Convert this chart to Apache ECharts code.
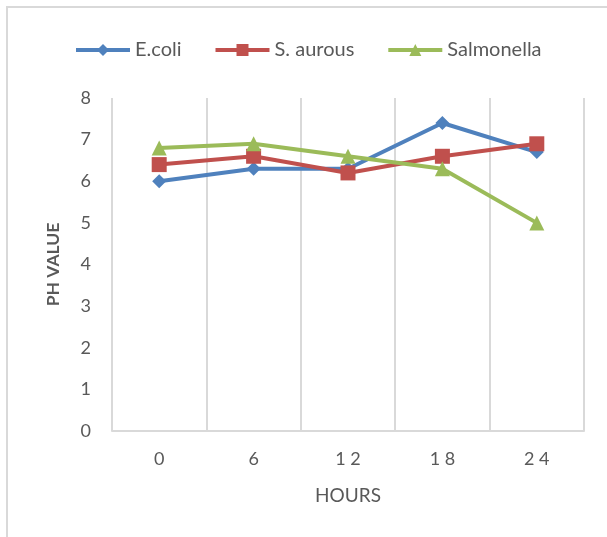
<!DOCTYPE html>
<html>
<head>
<meta charset="utf-8">
<script src="https://cdn.jsdelivr.net/npm/echarts@6/dist/echarts.min.js"></script>
<style>
  html, body { margin: 0; padding: 0; background: #ffffff; }
  #chart { width: 607px; height: 537px; }
</style>
</head>
<body>
<div id="chart"></div>
<script>
// Sampling times (hours) and pH readings for each organism
const hours = ['0', '6', '12', '18', '24'];
const ecoli = [6.0, 6.3, 6.3, 7.4, 6.7];
const sAurous = [6.4, 6.6, 6.2, 6.6, 6.9];
const salmonella = [6.8, 6.9, 6.6, 6.3, 5.0];
const yTicks = [0, 1, 2, 3, 4, 5, 6, 7, 8];
const seriesNames = ['E.coli', 'S. aurous', 'Salmonella'];

const FONT = 'Lato, "Open Sans", sans-serif';
const TEXT = '#595959';
const GRID = '#d9d9d9';

const chart = echarts.init(document.getElementById('chart'), null, { renderer: 'canvas' });

function lineSeries(name, data, color, symbol, size) {
  return {
    name: name,
    type: 'line',
    data: data,
    symbol: symbol,
    symbolSize: size,
    showSymbol: true,
    lineStyle: { color: color, width: 4 },
    itemStyle: { color: color },
    emphasis: { disabled: true },
    z: 3
  };
}

chart.setOption({
  animation: false,
  backgroundColor: '#ffffff',
  textStyle: { fontFamily: FONT },
  graphic: [{
    type: 'polyline',
    shape: { points: [[7, 540], [7, 7], [610, 7]] },
    style: { stroke: '#d9d9d9', lineWidth: 2, fill: null },
    silent: true
  }],
  legend: {
    top: 35,
    left: 69,
    itemWidth: 54,
    itemHeight: 15,
    itemGap: 32,
    lineStyle: { width: 4 },
    textStyle: { color: TEXT, fontSize: 20, fontFamily: FONT },
    data: seriesNames.map(n => ({ name: n, lineStyle: { width: 4 } }))
  },
  grid: { left: 112, right: 23, top: 98, bottom: 106, containLabel: false },
  xAxis: {
    type: 'category',
    data: hours,
    boundaryGap: true,
    name: 'HOURS',
    nameLocation: 'middle',
    nameGap: 55,
    nameTextStyle: { color: TEXT, fontSize: 19, fontFamily: FONT },
    axisLine: { show: true, lineStyle: { color: GRID, width: 2 } },
    axisTick: { show: false },
    axisLabel: {
      color: TEXT, fontSize: 18, margin: 19, fontFamily: FONT,
      formatter: v => v.split('').join(' ')
    },
    splitLine: { show: true, lineStyle: { color: GRID, width: 2 } }
  },
  yAxis: {
    type: 'value',
    min: yTicks[0],
    max: yTicks[yTicks.length - 1],
    interval: 1,
    name: 'PH VALUE',
    nameLocation: 'middle',
    nameGap: 50,
    nameTextStyle: { color: TEXT, fontSize: 17.5, fontWeight: 'bold', fontFamily: FONT },
    axisLine: { show: false },
    axisTick: { show: false },
    axisLabel: { color: TEXT, fontSize: 18, margin: 21, fontFamily: FONT },
    splitLine: { show: false }
  },
  series: [
    lineSeries(seriesNames[0], ecoli, '#4f81bd', 'diamond', 14),
    lineSeries(seriesNames[1], sAurous, '#c0504d', 'rect', 15),
    lineSeries(seriesNames[2], salmonella, '#9bbb59', 'triangle', 15)
  ]
});
</script>
</body>
</html>
